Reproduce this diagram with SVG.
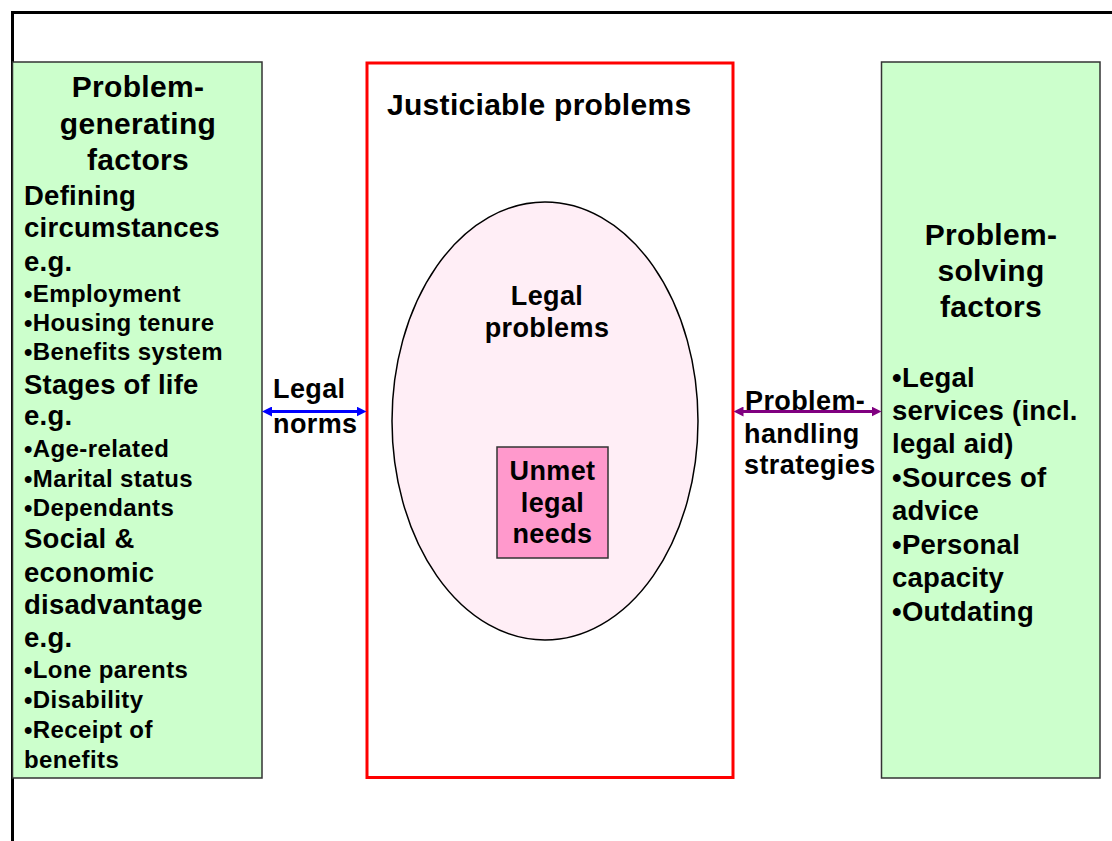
<svg xmlns="http://www.w3.org/2000/svg" width="1112" height="841" viewBox="0 0 1112 841">
  <style>
    text { font-family: "Liberation Sans", Arial, sans-serif; font-weight: bold; fill: #000; }
    .head { font-size: 30px; letter-spacing: 0.3px; }
    .body { font-size: 27.5px; letter-spacing: 0.25px; }
    .bullet { font-size: 24px; letter-spacing: 0.4px; }
    .label { font-size: 27px; letter-spacing: 0.4px; }
    .mid { text-anchor: middle; }
    .factor { fill: #CCFFCC; stroke: #333; stroke-width: 1.5; }
    .conn { stroke-width: 3; fill: none; }
  </style>
  <defs>
    <marker id="headBlue" viewBox="0 0 10 10" refX="2" refY="5" markerWidth="10" markerHeight="10" markerUnits="userSpaceOnUse" orient="auto-start-reverse">
      <path d="M0,0 L10,5 L0,10 z" fill="#0000FF"/>
    </marker>
    <marker id="headPurple" viewBox="0 0 10 10" refX="2" refY="5" markerWidth="10" markerHeight="10" markerUnits="userSpaceOnUse" orient="auto-start-reverse">
      <path d="M0,0 L10,5 L0,10 z" fill="#800080"/>
    </marker>
  </defs>

  <rect width="1112" height="841" fill="#fff"/>
  <!-- outer frame, open beyond the right and bottom edges -->
  <rect x="12.5" y="12.5" width="1120" height="850" fill="none" stroke="#000" stroke-width="3"/>

  <g id="problem-generating">
    <rect class="factor" x="12.5" y="62" width="249.5" height="716"/>
    <text class="head mid" x="138" y="97">Problem-</text>
    <text class="head mid" x="138" y="134">generating</text>
    <text class="head mid" x="138" y="170">factors</text>
    <text class="body" x="24" y="205">Defining</text>
    <text class="body" x="24" y="237">circumstances</text>
    <text class="body" x="24" y="271">e.g.</text>
    <text class="bullet" x="24" y="302">•Employment</text>
    <text class="bullet" x="24" y="331">•Housing tenure</text>
    <text class="bullet" x="24" y="360">•Benefits system</text>
    <text class="body" x="24" y="394">Stages of life</text>
    <text class="body" x="24" y="425">e.g.</text>
    <text class="bullet" x="24" y="457">•Age-related</text>
    <text class="bullet" x="24" y="487">•Marital status</text>
    <text class="bullet" x="24" y="516">•Dependants</text>
    <text class="body" x="24" y="548">Social &amp;</text>
    <text class="body" x="24" y="582">economic</text>
    <text class="body" x="24" y="614">disadvantage</text>
    <text class="body" x="24" y="647">e.g.</text>
    <text class="bullet" x="24" y="678">•Lone parents</text>
    <text class="bullet" x="24" y="708">•Disability</text>
    <text class="bullet" x="24" y="738">•Receipt of</text>
    <text class="bullet" x="24" y="768">benefits</text>
  </g>

  <g id="justiciable-problems">
    <rect x="367" y="63" width="366" height="714.5" fill="#fff" stroke="#FF0000" stroke-width="3"/>
    <text class="head" x="387" y="115">Justiciable problems</text>
  </g>

  <g id="legal-problems">
    <ellipse cx="545" cy="421" rx="153" ry="219" fill="#FFEEF6" stroke="#000" stroke-width="1.5"/>
    <text class="label mid" x="547" y="305">Legal</text>
    <text class="label mid" x="547" y="337">problems</text>
  </g>

  <g id="unmet-legal-needs">
    <rect x="497" y="447" width="111" height="111" fill="#FF99CC" stroke="#333" stroke-width="1.5"/>
    <text class="label mid" x="552.5" y="480">Unmet</text>
    <text class="label mid" x="552.5" y="512">legal</text>
    <text class="label mid" x="552.5" y="543">needs</text>
  </g>

  <g id="problem-solving">
    <rect class="factor" x="881.5" y="62" width="218.5" height="716"/>
    <text class="head mid" x="991" y="245">Problem-</text>
    <text class="head mid" x="991" y="281">solving</text>
    <text class="head mid" x="991" y="317">factors</text>
    <text class="body" x="892" y="387">•Legal</text>
    <text class="body" x="892" y="420">services (incl.</text>
    <text class="body" x="892" y="453">legal aid)</text>
    <text class="body" x="892" y="487">•Sources of</text>
    <text class="body" x="892" y="520">advice</text>
    <text class="body" x="892" y="554">•Personal</text>
    <text class="body" x="892" y="587">capacity</text>
    <text class="body" x="892" y="621">•Outdating</text>
  </g>

  <g id="connectors">
    <line class="conn" x1="270" y1="411.5" x2="358.5" y2="411.5" stroke="#0000FF" marker-start="url(#headBlue)" marker-end="url(#headBlue)"/>
    <text class="label" x="273" y="398">Legal</text>
    <text class="label" x="273" y="433">norms</text>
    <line class="conn" x1="741.5" y1="411.5" x2="873.5" y2="411.5" stroke="#800080" marker-start="url(#headPurple)" marker-end="url(#headPurple)"/>
    <text class="label" x="745" y="410">Problem-</text>
    <text class="label" x="744" y="443">handling</text>
    <text class="label" x="744" y="474">strategies</text>
  </g>
</svg>
